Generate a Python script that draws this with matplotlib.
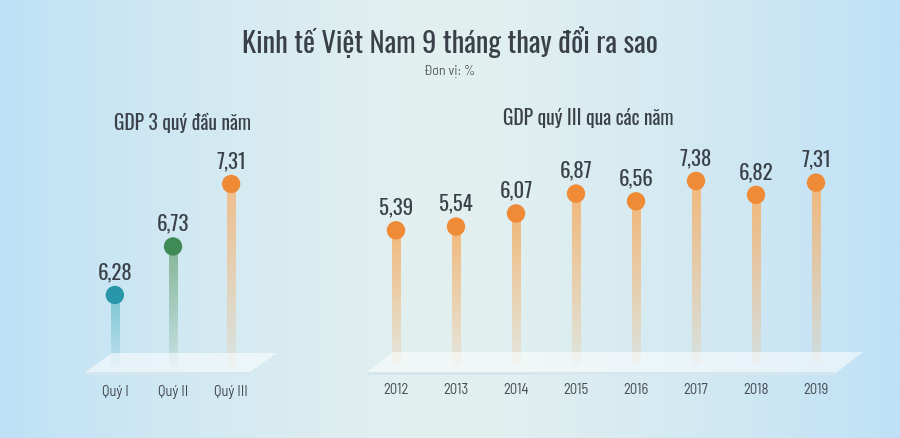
import numpy as np
import matplotlib
matplotlib.use("Agg")
import matplotlib.pyplot as plt
from matplotlib.patches import Polygon
from matplotlib.colors import to_rgb

# ---------------- data ----------------
title = "Kinh tế Việt Nam 9 tháng thay đổi ra sao"
unit = "Đơn vị: %"
left_title = "GDP 3 quý đầu năm"
right_title = "GDP quý III qua các năm"

quarters = ["Quý I", "Quý II", "Quý III"]
quarter_values = [6.28, 6.73, 7.31]

years = ["2012", "2013", "2014", "2015", "2016", "2017", "2018", "2019"]
year_values = [5.39, 5.54, 6.07, 6.87, 6.56, 7.38, 6.82, 7.31]

# ---------------- style ----------------
W, H = 900, 439
HEAD = ["Oswald", "Liberation Sans Narrow", "DejaVu Sans"]
SMALL = ["Barlow Semi Condensed", "Barlow", "Liberation Sans Narrow", "DejaVu Sans"]
dot_colors_left = ["#2797a9", "#3f8a55", "#ef8a36"]
stem_colors_left = ["#6fbfcc", "#78ad86", "#f4b678"]
dot_color_right = "#ef8a36"
stem_color_right = "#f3b574"
text_dark = "#3a4048"

fig = plt.figure(figsize=(W / 100, H / 100), dpi=100)

# background gradient
bg = fig.add_axes([0, 0, 1, 1], zorder=0)
xs = np.linspace(-1, 1, 400)
ys = np.linspace(-1, 1, 200)
X, Y = np.meshgrid(xs, ys)
t = np.clip(np.abs(X) ** 1.3, 0, 1)
c_center = np.array(to_rgb("#e3f0ef"))
c_edge = np.array(to_rgb("#bfe1f6"))
img = c_center[None, None, :] * (1 - t[..., None]) + c_edge[None, None, :] * t[..., None]
bg.imshow(img, extent=[0, 1, 0, 1], aspect="auto", origin="lower")
bg.set_xlim(0, 1)
bg.set_ylim(0, 1)
bg.axis("off")


def px(x, y):
    return (x / W, 1 - y / H)


def platform(tl, tr, br, bl):
    pts = [px(*tl), px(*tr), px(*br), px(*bl)]
    fig.add_artist(Polygon(pts, closed=True, transform=fig.transFigure,
                           facecolor="white", alpha=0.55, edgecolor="none", zorder=3))
    e = [px(bl[0], bl[1]), px(br[0], br[1]), px(br[0], br[1] + 2.5), px(bl[0], bl[1] + 2.5)]
    fig.add_artist(Polygon(e, closed=True, transform=fig.transFigure,
                           facecolor="#d6e6ee", alpha=0.9, edgecolor="none", zorder=3))


def axes_px(x0, x1, y0, y1):
    return fig.add_axes([x0 / W, 1 - y1 / H, (x1 - x0) / W, (y1 - y0) / H], zorder=2)


def gradient_stem(ax, x, top, base, color, w, a_top=0.85, a_bot=0.12):
    n = 100
    rgba = np.zeros((n, 1, 4))
    rgba[..., :3] = to_rgb(color)
    rgba[:, 0, 3] = np.linspace(a_top, a_bot, n)
    ax.imshow(rgba, extent=[x - w / 2, x + w / 2, base, top], aspect="auto",
              origin="upper", zorder=2, interpolation="bilinear")


def label(ax, x, v):
    ax.annotate(f"{v:.2f}".replace(".", ","), (x, v), xytext=(0, 10),
                textcoords="offset points", ha="center", va="bottom",
                fontsize=15, family=HEAD, color=text_dark, zorder=5)


# ---------------- left panel ----------------
axL = axes_px(80, 280, 140, 375)
axL.patch.set_alpha(0)
base_L = 5.61
xl = np.arange(len(quarters))
for i, v in enumerate(quarter_values):
    gradient_stem(axL, xl[i], v, base_L, stem_colors_left[i], 0.14)
    axL.scatter([xl[i]], [v], s=175, color=dot_colors_left[i], zorder=4, edgecolors="none")
    label(axL, xl[i], v)
axL.set_xlim(-0.6, 2.84)
axL.set_ylim(5.547, 7.727)
axL.axis("off")
for i, q in enumerate(quarters):
    fig.text(*px(115 + 58 * i, 392), q, ha="center", va="center", fontsize=10.5,
             family=SMALL, color="#444a50")

# ---------------- right panel ----------------
axR = axes_px(360, 870, 140, 375)
axR.patch.set_alpha(0)
xr = np.arange(len(years))
for i, v in enumerate(year_values):
    gradient_stem(axR, xr[i], v, 0, stem_color_right, 0.14, a_top=0.95, a_bot=0.15)
    axR.scatter([xr[i]], [v], s=175, color=dot_color_right, zorder=4, edgecolors="none")
    label(axR, xr[i], v)
axR.set_xlim(-0.6, 7.9)
axR.set_ylim(-0.4, 9.07)
axR.axis("off")
for i, y in enumerate(years):
    fig.text(*px(396 + 60 * i, 390), y, ha="center", va="center", fontsize=10.5,
             family=SMALL, color="#444a50")

platform((112, 354), (277, 354), (250, 373), (85, 373))
platform((393, 353), (863, 353), (837, 373), (367, 373))

# ---------------- titles ----------------
fig.text(*px(450, 42), title, ha="center", va="center", fontsize=20.5,
         family=HEAD, color=text_dark)
fig.text(*px(450, 72), unit, ha="center", va="center", fontsize=10,
         family=SMALL, color="#555b60")
fig.text(*px(183, 123), left_title, ha="center", va="center", fontsize=14,
         family=HEAD, color=text_dark)
fig.text(*px(588, 118), right_title, ha="center", va="center", fontsize=14,
         family=HEAD, color=text_dark)

fig.savefig("out.png", dpi=100)
